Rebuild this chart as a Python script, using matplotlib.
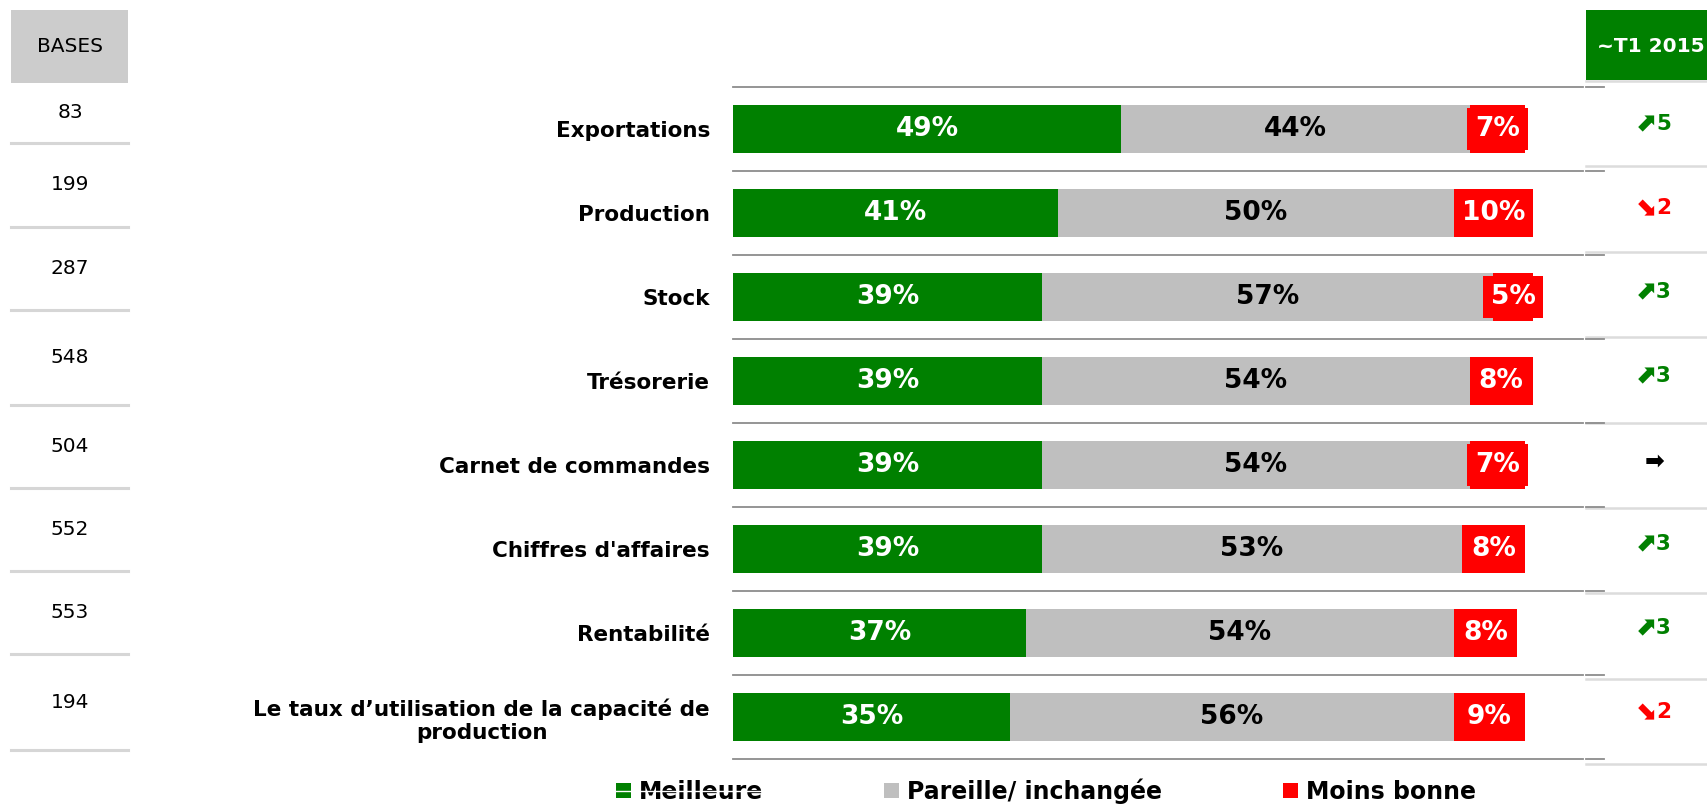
import matplotlib.pyplot as plt
import matplotlib.transforms as mtransforms
from matplotlib.patches import Rectangle, Patch
import numpy as np

# data
categories = ["Exportations", "Production", "Stock", "Trésorerie",
              "Carnet de commandes", "Chiffres d'affaires", "Rentabilité",
              "Le taux d’utilisation de la capacité de\nproduction"]
meilleure = [49, 41, 39, 39, 39, 39, 37, 35]
pareille = [44, 50, 57, 54, 54, 53, 54, 56]
moins_bonne = [7, 10, 5, 8, 7, 8, 8, 9]
bases = [83, 199, 287, 548, 504, 552, 553, 194]
evolution = [5, -2, 3, 3, 0, 3, 3, -2]
legend_labels = ["Meilleure", "Pareille/ inchangée", "Moins bonne"]
header_left = "BASES"
header_right = "~T1 2015"

GREEN = "#008000"
GREY = "#bfbfbf"
RED = "#ff0000"

plt.rcParams['font.family'] = ['DejaVu Sans']

W, H = 1707, 807
fig = plt.figure(figsize=(W / 100, H / 100), dpi=100)

# overlay in pixel units for the side tables / legend
ov = fig.add_axes([0, 0, 1, 1])
ov.set_xlim(0, W)
ov.set_ylim(H, 0)
ov.axis('off')

# bar axes: 100% = 792 px, rows 84 px apart
px_per_pct = 7.92
ax = fig.add_axes([733 / W, (H - 759) / H, 850 / W, 672 / H])
ax.set_xlim(0, 850 / px_per_pct)
ax.set_ylim(len(categories) - 0.5, -0.5)
for s in ax.spines.values():
    s.set_visible(False)
ax.set_xticks([])

rows = np.arange(len(categories))
left_grey = meilleure
left_red = [a + b for a, b in zip(meilleure, pareille)]

b1 = ax.barh(rows, meilleure, height=0.57, color=GREEN, label=legend_labels[0])
b2 = ax.barh(rows, pareille, left=left_grey, height=0.57, color=GREY, label=legend_labels[1])
b3 = ax.barh(rows, moins_bonne, left=left_red, height=0.57, color=RED, label=legend_labels[2])

ax.bar_label(b1, labels=[f"{v}%" for v in meilleure], label_type='center',
             color='white', fontsize=19, fontweight='bold')
ax.bar_label(b2, labels=[f"{v}%" for v in pareille], label_type='center',
             color='black', fontsize=19, fontweight='bold')
ax.bar_label(b3, labels=[f"{v}%" for v in moins_bonne], label_type='center',
             color='white', fontsize=19, fontweight='bold',
             bbox=dict(boxstyle='square,pad=0.3', fc=RED, ec='none'))

ax.set_yticks(rows)
ax.set_yticklabels(categories, fontsize=15.5, fontweight='bold')
ax.tick_params(axis='y', length=0, pad=16.5)
ax.get_yticklabels()[-1].set_multialignment('center')

for k in range(len(categories) + 1):
    ax.axhline(k - 0.5, color='#8c8c8c', lw=1.3, clip_on=False)

# x in overlay pixels, y in bar rows
trans = mtransforms.blended_transform_factory(ov.transData, ax.transData)

# right column : evolution vs T1 2015
ov.add_patch(Rectangle((1586, 10), 130, 70, fc=GREEN, ec='none'))
ov.text(1597, 46, header_right, color='white', fontsize=14.5, fontweight='bold',
        ha='left', va='center')
for yl in np.linspace(81, 764, 9):
    ov.plot([1586, W], [yl, yl], color='#dcdcdc', lw=1.8)
for k in range(len(categories) + 1):
    ov.plot([1586, 1604], [k - 0.5, k - 0.5], color='#8c8c8c', lw=1.3, transform=trans)
for i, ev in enumerate(evolution):
    if ev > 0:
        arrow, num, col = "⬈", str(ev), GREEN
    elif ev < 0:
        arrow, num, col = "⬊", str(abs(ev)), RED
    else:
        arrow, num, col = "➡", "", 'black'
    if num:
        ov.text(1656, i - 0.05, arrow, transform=trans, color=col, fontsize=18.5,
                fontweight='bold', ha='right', va='center')
        ov.text(1656, i - 0.06, num, transform=trans, color=col, fontsize=15.5,
                fontweight='bold', ha='left', va='center')
    else:
        ov.text(1655, i - 0.04, arrow, transform=trans, color=col, fontsize=17,
                fontweight='bold', ha='center', va='center')

# left column : bases
ov.add_patch(Rectangle((11, 10), 117, 73, fc='#cccccc', ec='none'))
ov.text(70, 46, header_left, fontsize=14.5, ha='center', va='center')
cell_edges = [83, 143, 227, 310, 405, 488, 571, 654, 750]
for i, n in enumerate(bases):
    yc = (cell_edges[i] + cell_edges[i + 1]) / 2
    ov.text(70, yc, str(n), fontsize=14.5, ha='center', va='center')
for ye in cell_edges[1:]:
    ov.plot([11, 128], [ye, ye], color='#d6d6d6', lw=2.2)

# legend
handles = [Patch(fc=GREEN), Patch(fc=GREY), Patch(fc=RED)]
ov.legend(handles, legend_labels, loc='center', ncol=3, frameon=False,
          bbox_to_anchor=(1046 / W, 1 - 791 / H), bbox_transform=fig.transFigure,
          prop=dict(size=17, weight='bold'), handlelength=0.65, handleheight=0.6,
          handletextpad=0.35, columnspacing=5.1, borderpad=0)
ov.plot([612, 762], [791, 791], color='white', lw=1.0, zorder=10)

fig.savefig("out.png", dpi=100)
